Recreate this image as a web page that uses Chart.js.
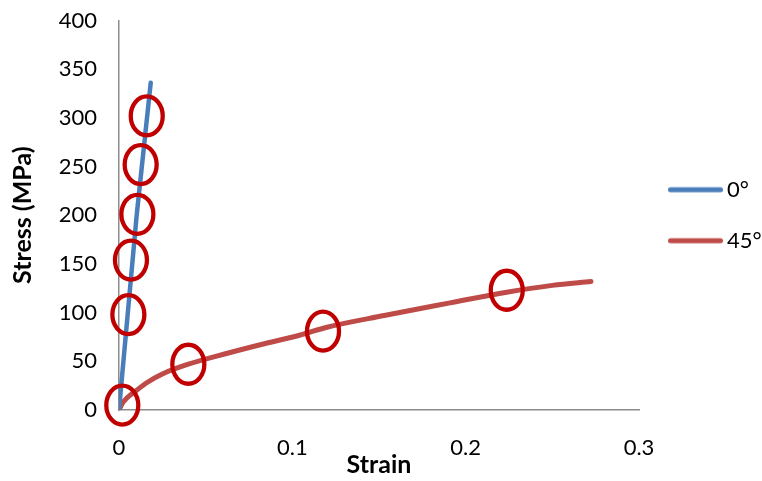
<!DOCTYPE html>
<html>
<head>
<meta charset="utf-8">
<script src="https://cdn.jsdelivr.net/npm/chart.js@4/dist/chart.umd.min.js"></script>
<style>
html,body{margin:0;padding:0;background:#fff;}
#wrap{width:762px;height:481px;position:relative;}
</style>
</head>
<body>
<div id="wrap"><canvas id="c" width="762" height="481"></canvas></div>
<script>
// ---- data ----
const strain0 = [0, 0.0102, 0.0183];
const stress0 = [0, 200, 336];
const strain45 = [0, 0.002, 0.0044, 0.01, 0.016, 0.025, 0.04, 0.062, 0.0815, 0.1046, 0.12, 0.153, 0.191, 0.2237, 0.25, 0.2723];
const stress45 = [0, 7, 12, 20, 28, 37, 47, 58, 67, 77, 85, 97, 110, 121, 128, 132];
const circleStrain = [0.0019, 0.0054, 0.0069, 0.0106, 0.0125, 0.016, 0.04, 0.1177, 0.2237];
const circleStress = [5, 98, 154, 201, 252, 302, 47, 81, 123];
const seriesNames = ['0°', '45°'];
const seriesColors = ['#4A7EBB', '#BE4B48'];
const xTitle = 'Strain';
const yTitle = 'Stress (MPa)';

const FONT = 'Lato, "DejaVu Sans", sans-serif';

// legend swatch: a short thick line image
function swatch(color, width) {
  const cv = document.createElement('canvas');
  cv.width = 62; cv.height = 10;
  const g = cv.getContext('2d');
  g.strokeStyle = color;
  g.lineWidth = width;
  g.lineCap = 'round';
  g.beginPath();
  g.moveTo(9.5, 5);
  g.lineTo(59.5, 5);
  g.stroke();
  return cv;
}

const ellipsePlugin = {
  id: 'ellipses',
  afterDatasetsDraw(chart) {
    const {ctx, scales: {x, y}} = chart;
    ctx.save();
    ctx.strokeStyle = '#C00000';
    ctx.lineWidth = 4.3;
    for (let i = 0; i < circleStrain.length; i++) {
      const px = x.getPixelForValue(circleStrain[i]);
      const py = y.getPixelForValue(circleStress[i]);
      ctx.beginPath();
      ctx.ellipse(px, py, 16, 19.5, 0, 0, Math.PI * 2);
      ctx.stroke();
    }
    ctx.restore();
  }
};

new Chart(document.getElementById('c'), {
  type: 'scatter',
  data: {
    datasets: [
      {
        label: seriesNames[0],
        data: strain0.map((v, i) => ({x: v, y: stress0[i]})),
        showLine: true,
        borderColor: seriesColors[0],
        backgroundColor: seriesColors[0],
        borderWidth: 4.5,
        borderCapStyle: 'round',
        pointRadius: 0,
        pointHoverRadius: 0,
        pointStyle: swatch(seriesColors[0], 5)
      },
      {
        label: seriesNames[1],
        data: strain45.map((v, i) => ({x: v, y: stress45[i]})),
        showLine: true,
        borderColor: seriesColors[1],
        backgroundColor: seriesColors[1],
        borderWidth: 5,
        borderCapStyle: 'round',
        cubicInterpolationMode: 'monotone',
        pointRadius: 0,
        pointHoverRadius: 0,
        pointStyle: swatch(seriesColors[1], 5)
      }
    ]
  },
  options: {
    responsive: false,
    animation: false,
    devicePixelRatio: 1,
    layout: {padding: {top: 20.5, left: 0, right: 0, bottom: 0}},
    plugins: {
      tooltip: {enabled: false},
      legend: {
        position: 'right',
        fullSize: false,
        maxWidth: 123,
        labels: {
          usePointStyle: true,
          pointStyleWidth: 48,
          boxHeight: 22,
          padding: 29,
          color: '#000',
          font: {family: FONT, size: 22}
        }
      }
    },
    scales: {
      x: {
        type: 'linear',
        min: 0,
        max: 0.3,
        afterFit(scale) { scale.height = 71; },
        grid: {display: false, drawTicks: false},
        border: {display: true, color: '#8C8C8C', width: 1.5},
        ticks: {stepSize: 0.1, padding: 25, color: '#000', font: {family: FONT, size: 22, lineHeight: 1.2}},
        title: {display: true, text: xTitle, color: '#000', padding: {top: 0, bottom: 3.5}, font: {family: FONT, size: 25, weight: 'bold', lineHeight: 1}}
      },
      y: {
        type: 'linear',
        min: 0,
        max: 400,
        afterFit(scale) { scale.width = 119; scale.paddingTop = 0; scale.paddingBottom = 0; },
        grid: {display: false, drawTicks: false},
        border: {display: true, color: '#8C8C8C', width: 1.5},
        ticks: {stepSize: 50, padding: 22, color: '#000', font: {family: FONT, size: 22, lineHeight: 1.2}},
        title: {display: true, text: yTitle, color: '#000', padding: {top: 8, bottom: 0}, font: {family: FONT, size: 25, weight: 'bold', lineHeight: 1.2}}
      }
    }
  },
  plugins: [ellipsePlugin]
});
</script>
</body>
</html>
